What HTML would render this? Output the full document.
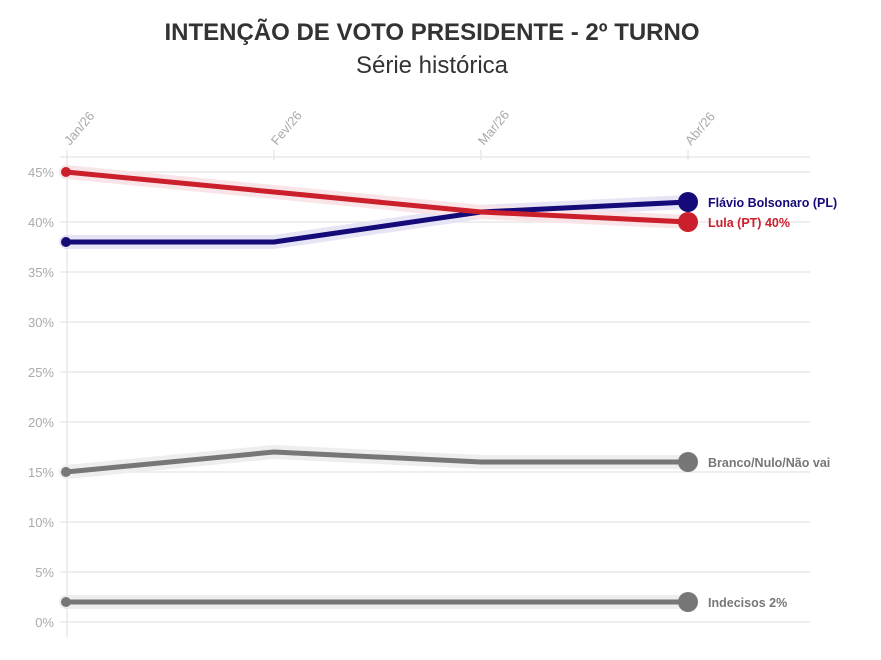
<!DOCTYPE html>
<html><head><meta charset="utf-8"><style>
body{margin:0;background:#fff;width:881px;height:660px;overflow:hidden}
svg{display:block}
</style></head><body>
<svg width="881" height="660" xmlns="http://www.w3.org/2000/svg" font-family="Liberation Sans, sans-serif">
<text x="432" y="40" text-anchor="middle" font-size="24" font-weight="bold" fill="#333">INTENÇÃO DE VOTO PRESIDENTE - 2º TURNO</text>
<text x="432" y="73" text-anchor="middle" font-size="24" fill="#333">Série histórica</text>
<g stroke="#e8e8e8" stroke-width="1.5">
<line x1="60" y1="157" x2="810" y2="157"/>
<line x1="60" y1="172" x2="810" y2="172"/>
<line x1="60" y1="222" x2="810" y2="222"/>
<line x1="60" y1="272" x2="810" y2="272"/>
<line x1="60" y1="322" x2="810" y2="322"/>
<line x1="60" y1="372" x2="810" y2="372"/>
<line x1="60" y1="422" x2="810" y2="422"/>
<line x1="60" y1="472" x2="810" y2="472"/>
<line x1="60" y1="522" x2="810" y2="522"/>
<line x1="60" y1="572" x2="810" y2="572"/>
<line x1="60" y1="622" x2="810" y2="622"/>
<line x1="67" y1="150" x2="67" y2="637"/>
<line x1="274" y1="150" x2="274" y2="160"/>
<line x1="481" y1="150" x2="481" y2="160"/>
<line x1="688" y1="150" x2="688" y2="160"/>
</g>
<g font-size="13" fill="#aaa" text-anchor="end">
<text x="54" y="177">45%</text><text x="54" y="227">40%</text><text x="54" y="277">35%</text>
<text x="54" y="327">30%</text><text x="54" y="377">25%</text><text x="54" y="427">20%</text>
<text x="54" y="477">15%</text><text x="54" y="527">10%</text><text x="54" y="577">5%</text>
<text x="54" y="627">0%</text>
</g>
<g font-size="13" fill="#aaa">
<text transform="translate(70,146) rotate(-50)">Jan/26</text>
<text transform="translate(277,146) rotate(-50)">Fev/26</text>
<text transform="translate(484,146) rotate(-50)">Mar/26</text>
<text transform="translate(691,146) rotate(-50)">Abr/26</text>
</g>
<g fill="none" stroke-linejoin="round" stroke-linecap="round">
<polyline points="66,602 688,602" stroke="#eee" stroke-width="14"/>
<polyline points="66,472 274,452 481,462 688,462" stroke="#eee" stroke-width="14"/>
<polyline points="66,242 274,242 481,212 688,202" stroke="#e6e4f5" stroke-width="14"/>
<polyline points="66,172 274,192 481,212 688,222" stroke="#f9e5e7" stroke-width="14"/>
<polyline points="66,602 688,602" stroke="#777" stroke-width="5"/>
<polyline points="66,472 274,452 481,462 688,462" stroke="#777" stroke-width="5"/>
<polyline points="66,242 274,242 481,212 688,202" stroke="#140a78" stroke-width="5"/>
<polyline points="66,172 274,192 481,212 688,222" stroke="#cc1f2c" stroke-width="5"/>
</g>
<circle cx="66" cy="602" r="5" fill="#777"/><circle cx="66" cy="472" r="5" fill="#777"/>
<circle cx="66" cy="242" r="5" fill="#140a78"/><circle cx="66" cy="172" r="5" fill="#cc1f2c"/>
<circle cx="688" cy="602" r="10" fill="#777"/><circle cx="688" cy="462" r="10" fill="#777"/>
<circle cx="688" cy="202" r="10" fill="#140a78"/><circle cx="688" cy="222" r="10" fill="#cc1f2c"/>
<g font-size="12.5" font-weight="bold">
<text x="708" y="207" fill="#140a78">Flávio Bolsonaro (PL)</text>
<text x="708" y="227" fill="#cc1f2c">Lula (PT) 40%</text>
<text x="708" y="467" fill="#777">Branco/Nulo/Não vai</text>
<text x="708" y="607" fill="#777">Indecisos 2%</text>
</g>
</svg>
</body></html>
